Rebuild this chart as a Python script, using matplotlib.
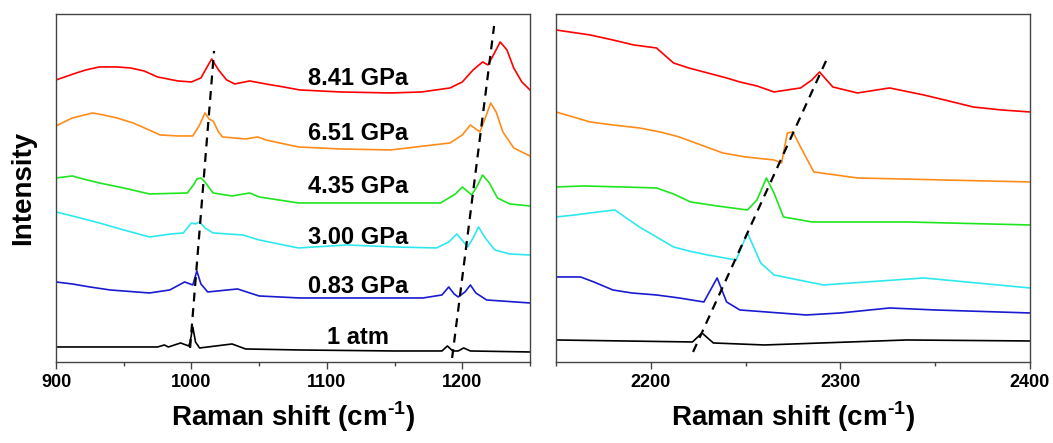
import matplotlib
matplotlib.use("Agg")
import matplotlib.pyplot as plt
from matplotlib.ticker import MultipleLocator

plt.rcParams['font.family'] = ['Liberation Sans', 'DejaVu Sans']
plt.rcParams['font.weight'] = 'bold'
plt.rcParams['mathtext.fontset'] = 'custom'
plt.rcParams['mathtext.rm'] = 'Liberation Sans'
plt.rcParams['mathtext.bf'] = 'Liberation Sans:bold'

labels = ['1 atm', '0.83 GPa', '3.00 GPa', '4.35 GPa', '6.51 GPa', '8.41 GPa']
colors = ['#000000', '#1a1ad0', '#2ee8f0', '#1ee61e', '#ff8c1a', '#ff0000']
label_y = [24, 75, 124, 175, 228, 283]

# left panel spectra (Raman shift, offset intensity)
w_atm = [900, 975, 980, 983, 992, 998, 999, 1001, 1003, 1006, 1030, 1040, 1080, 1150, 1185, 1189, 1193, 1197, 1201, 1206, 1250]
i_atm = [15, 15, 17, 15, 19, 16, 20, 35, 20, 14, 18, 13, 12, 11, 11, 16, 11, 11, 14, 11, 10]

w_083 = [900, 912, 925, 940, 969, 984, 995, 1001, 1004, 1007, 1012, 1034, 1050, 1080, 1171, 1185, 1190, 1194, 1197, 1202, 1206, 1210, 1218, 1250]
i_083 = [80, 78, 75, 72, 69, 72, 80, 77, 91, 78, 70, 73, 66, 64, 64, 67, 75, 68, 65, 70, 77, 69, 62, 59]

w_300 = [900, 915, 932, 950, 969, 985, 994, 1000, 1003, 1006, 1010, 1016, 1038, 1050, 1079, 1115, 1150, 1181, 1190, 1196, 1201, 1204, 1208, 1212, 1217, 1224, 1235, 1250]
i_300 = [150, 145, 139, 132, 125, 128, 129, 139, 138, 140, 134, 129, 127, 122, 114, 117, 115, 114, 120, 128, 120, 115, 124, 135, 124, 112, 108, 107]

w_435 = [900, 912, 920, 932, 950, 969, 997, 1002, 1004, 1007, 1010, 1016, 1030, 1043, 1050, 1079, 1140, 1184, 1195, 1200, 1207, 1211, 1215, 1220, 1226, 1235, 1250]
i_435 = [184, 186, 183, 179, 174, 168, 169, 178, 183, 184, 180, 169, 166, 169, 165, 159, 159, 159, 168, 175, 167, 176, 187, 179, 164, 158, 156]

w_651 = [900, 912, 927, 935, 945, 957, 967, 977, 990, 1001, 1006, 1010, 1013, 1016, 1020, 1023, 1040, 1049, 1055, 1079, 1110, 1147, 1191, 1200, 1206, 1213, 1217, 1221, 1225, 1230, 1238, 1250]
i_651 = [236, 244, 249, 247, 244, 239, 233, 227, 226, 226, 237, 249, 243, 241, 230, 225, 223, 225, 222, 215, 213, 212, 219, 227, 237, 230, 244, 259, 250, 230, 214, 206]

w_841 = [900, 915, 922, 932, 945, 955, 965, 975, 990, 1000, 1007, 1012, 1015, 1020, 1026, 1032, 1043, 1055, 1068, 1080, 1110, 1147, 1170, 1191, 1200, 1208, 1215, 1219, 1223, 1228, 1233, 1238, 1244, 1250]
i_841 = [282, 289, 292, 295, 295, 294, 291, 285, 281, 280, 284, 296, 303, 292, 282, 278, 281, 278, 275, 272, 270, 269, 270, 274, 280, 292, 300, 297, 307, 320, 312, 294, 280, 272]

# right panel spectra
v_atm = [2150, 2222, 2227, 2233, 2260, 2335, 2400]
j_atm = [22, 20, 29, 19, 17, 22, 21]

v_083 = [2150, 2163, 2170, 2180, 2190, 2203, 2215, 2228, 2235, 2240, 2247, 2282, 2300, 2326, 2350, 2400]
j_083 = [85, 85, 80, 72, 69, 67, 64, 60, 84, 60, 52, 47, 49, 54, 52, 49]

v_300 = [2150, 2160, 2168, 2181, 2194, 2203, 2212, 2220, 2230, 2245, 2251, 2258, 2265, 2291, 2344, 2400]
j_300 = [145, 147, 149, 152, 135, 125, 115, 111, 107, 102, 129, 99, 87, 77, 84, 74]

v_435 = [2150, 2165, 2185, 2203, 2212, 2221, 2235, 2251, 2256, 2261, 2265, 2270, 2285, 2335, 2400]
j_435 = [175, 176, 175, 174, 168, 160, 156, 152, 162, 184, 169, 145, 140, 140, 137]

v_651 = [2150, 2168, 2180, 2194, 2205, 2215, 2225, 2238, 2250, 2265, 2269, 2272, 2275, 2279, 2286, 2309, 2400]
j_651 = [250, 240, 237, 234, 230, 225, 218, 209, 205, 202, 199, 229, 230, 215, 190, 184, 180]

v_841 = [2150, 2168, 2180, 2191, 2203, 2212, 2220, 2230, 2240, 2247, 2256, 2265, 2279, 2285, 2289, 2296, 2309, 2326, 2344, 2355, 2370, 2385, 2400]
j_841 = [332, 327, 322, 317, 314, 299, 294, 289, 284, 280, 276, 270, 274, 282, 290, 275, 269, 274, 267, 262, 255, 252, 250]

left_w = [w_atm, w_083, w_300, w_435, w_651, w_841]
left_i = [i_atm, i_083, i_300, i_435, i_651, i_841]
right_v = [v_atm, v_083, v_300, v_435, v_651, v_841]
right_j = [j_atm, j_083, j_300, j_435, j_651, j_841]

# guide lines following the peak shift
guide1_x = [999, 1016.7]
guide1_y = [14, 311]
guide2_x = [1192.5, 1223.5]
guide2_y = [4, 336]
guide3_x = [2222.3, 2292.9]
guide3_y = [10, 303]

fig = plt.figure(figsize=(10.53, 4.43), dpi=100)
ax1 = fig.add_axes([0.0532, 0.1829, 0.4501, 0.7856])
ax2 = fig.add_axes([0.528, 0.1829, 0.4501, 0.7856])

for k in range(6):
    ax1.plot(left_w[k], left_i[k], color=colors[k], lw=1.2)
    ax2.plot(right_v[k], right_j[k], color=colors[k], lw=1.2)
    ax1.text(1123, label_y[k], labels[k], ha='center', va='center', fontsize=17, fontweight='bold')

for gx, gy in [(guide1_x, guide1_y), (guide2_x, guide2_y)]:
    ax1.plot(gx, gy, color='black', lw=1.6, ls=(0, (4, 3)))
ax2.plot(guide3_x, guide3_y, color='black', lw=1.6, ls=(0, (4, 3)))

ax1.set_xlim(900, 1250)
ax2.set_xlim(2150, 2400)
ax1.xaxis.set_major_locator(MultipleLocator(100))
ax1.xaxis.set_minor_locator(MultipleLocator(50))
ax2.set_xticks([2200, 2300, 2400])
ax2.xaxis.set_minor_locator(MultipleLocator(50))

for ax in (ax1, ax2):
    ax.set_ylim(0, 348)
    ax.set_yticks([])
    for s in ax.spines.values():
        s.set_color('#444444')
        s.set_linewidth(1.0)
    ax.tick_params(axis='x', which='major', direction='out', length=5, width=1, color='#444444', labelsize=13, pad=4)
    ax.tick_params(axis='x', which='minor', direction='out', length=3, width=1, color='#444444')
    for t in ax.get_xticklabels():
        t.set_fontweight('bold')
    ax.set_xlabel('Raman shift (cm$^{\\mathbf{\u2010}\\mathbf{1}}$)', fontsize=20, fontweight='bold', labelpad=6)

ax1.set_ylabel('Intensity', fontsize=20, fontweight='bold', labelpad=14)

fig.savefig('out.png', dpi=100)
